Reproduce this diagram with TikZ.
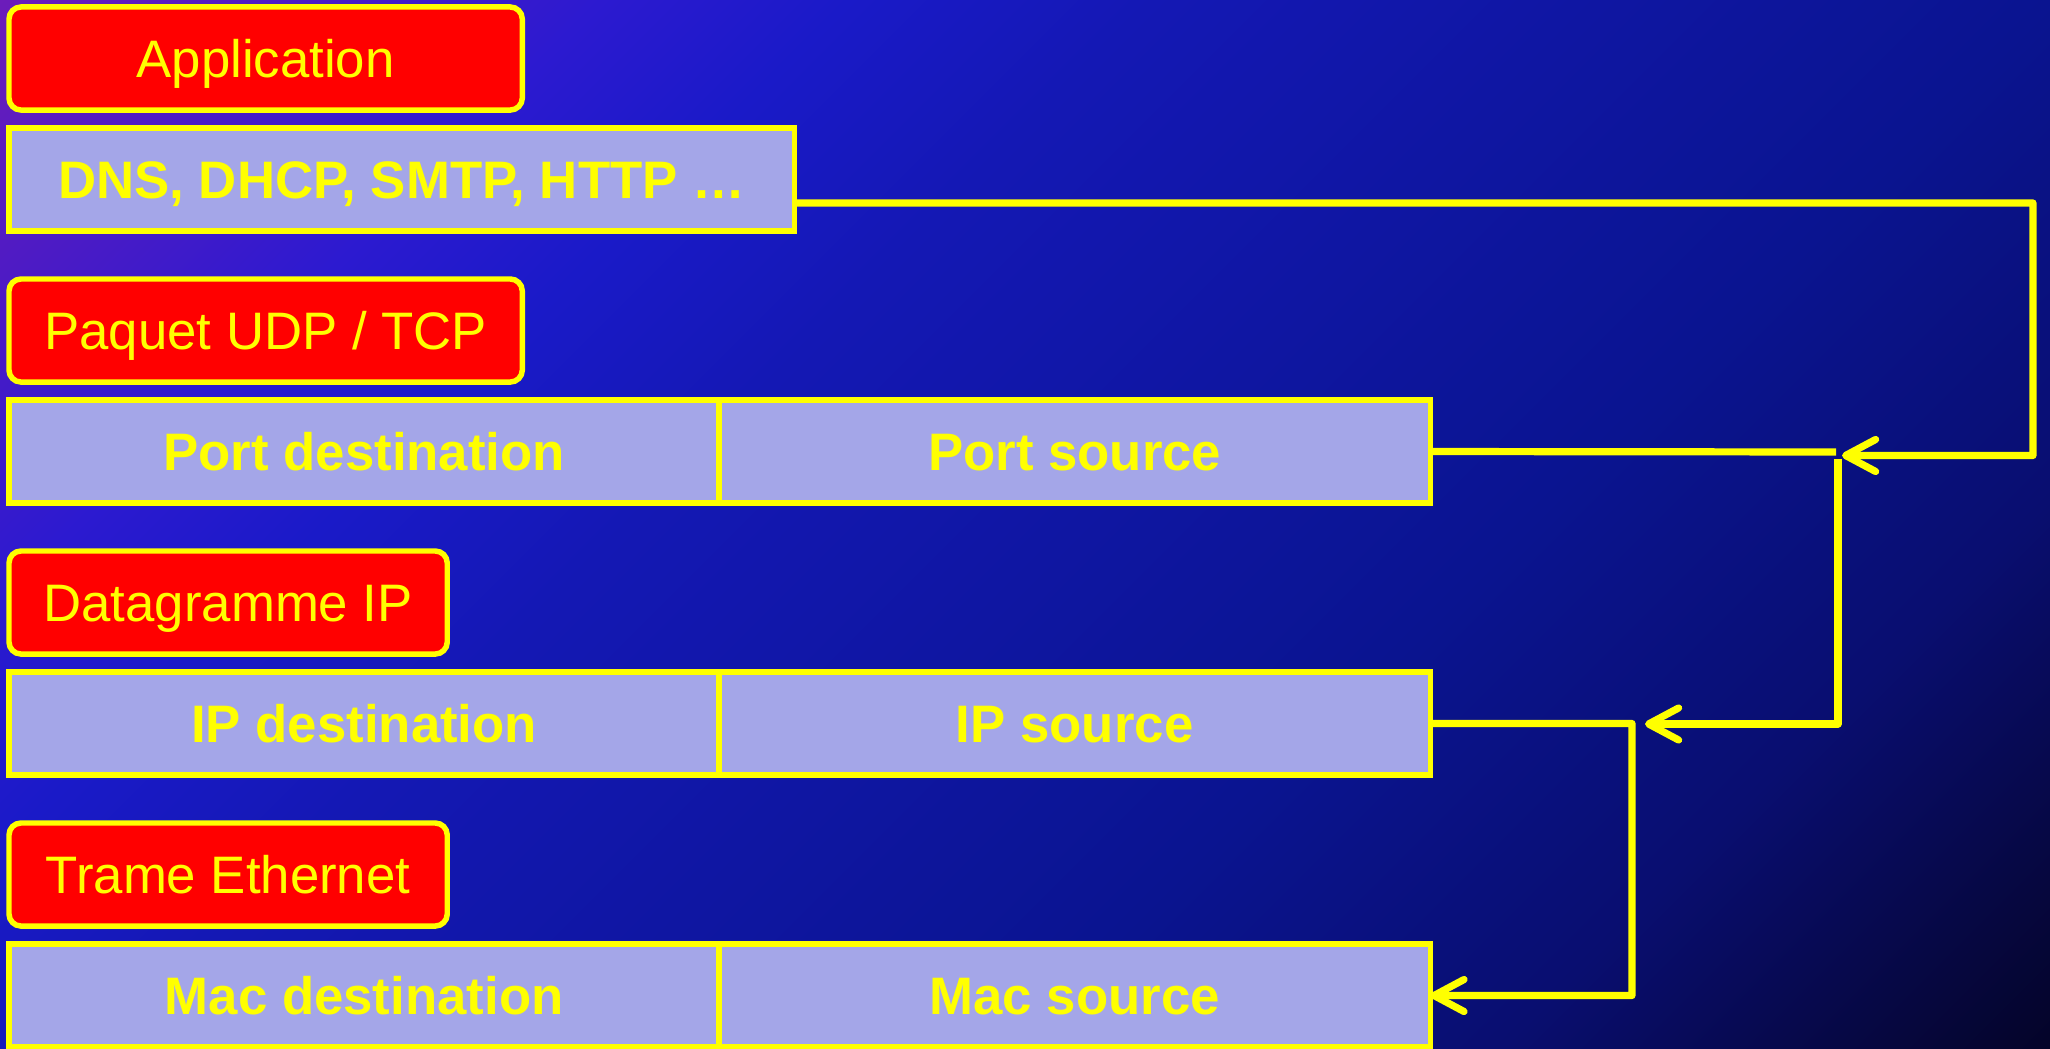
\documentclass[tikz,border=0pt]{standalone}
\usepackage{fontspec}
\setmainfont{Liberation Sans}
\usetikzlibrary{arrows.meta}

\definecolor{yel}{RGB}{255,255,0}
\definecolor{redc}{RGB}{255,0,0}
\definecolor{cellc}{RGB}{164,166,232}
\definecolor{bgA}{RGB}{108,28,186}
\definecolor{bgB}{RGB}{44,26,208}
\definecolor{bgC}{RGB}{26,26,200}
\definecolor{bgD}{RGB}{20,24,180}
\definecolor{bgE}{RGB}{10,20,144}
\definecolor{bgF}{RGB}{9,14,112}
\definecolor{bgG}{RGB}{5,5,48}
\definecolor{bgH}{RGB}{4,4,40}

% diagonal background: purple top left, blue, then nearly black bottom right
\pgfdeclarehorizontalshading{bgshade}{100bp}{%
  color(0bp)=(bgA); color(25bp)=(bgA); color(34.7bp)=(bgB);
  color(38.7bp)=(bgC); color(43.6bp)=(bgD); color(58.1bp)=(bgE);
  color(66.1bp)=(bgF); color(74bp)=(bgG); color(75bp)=(bgH);
  color(100bp)=(bgH)}

\newcommand{\lblfont}{\fontsize{15pt}{18pt}\selectfont}
\newcommand{\cellfont}{\fontsize{15pt}{18pt}\selectfont\bfseries}

\tikzset{
  tag/.style={draw=yel, fill=redc, line width=1.56pt, rounded corners=0.12cm,
    inner sep=0pt, outer sep=0pt, anchor=north west, text=yel, font=\lblfont,
    text height=0.376cm, text depth=0pt, minimum height=1.03cm},
  cell/.style={draw=yel, fill=cellc, line width=1.56pt,
    inner sep=0pt, outer sep=0pt, anchor=north west, text=yel, font=\cellfont,
    text height=0.376cm, text depth=0pt, minimum height=1.03cm},
  link/.style={draw=yel, line width=2.05pt, line join=round},
  arr/.style={-{Straight Barb[length=0.3cm,width=0.32cm,round]}},
}

\begin{document}
\begin{tikzpicture}[x=0.01cm, y=-0.01cm]
  \useasboundingbox (0,0) rectangle (2050,1049);

  % background
  \begin{scope}
    \clip (0,0) rectangle (2050,1049);
    \begin{scope}[transform canvas={rotate=-45}]
      \shade[shading=bgshade] (0,-1450) rectangle (2192,742);
    \end{scope}
  \end{scope}

  % layer labels
  \node[tag, minimum width=5.13cm] (app)  at (9,7)   {Application};
  \node[tag, minimum width=5.13cm] (pkt)  at (9,279) {Paquet UDP / TCP};
  \node[tag, minimum width=4.38cm] (dgm)  at (9,551) {Datagramme IP};
  \node[tag, minimum width=4.38cm] (frm)  at (9,823) {Trame Ethernet};

  % header fields
  \node[cell, minimum width=7.85cm] (dns) at (9,128) {DNS, DHCP, SMTP, HTTP …};

  \node[cell, minimum width=7.10cm] (portdst) at (9,400)   {Port destination};
  \node[cell, minimum width=7.11cm] (portsrc) at (719,400) {Port source};

  \node[cell, minimum width=7.10cm] (ipdst) at (9,672)   {IP destination};
  \node[cell, minimum width=7.11cm] (ipsrc) at (719,672) {IP source};

  \node[cell, minimum width=7.10cm] (macdst) at (9,944)   {Mac destination};
  \node[cell, minimum width=7.11cm] (macsrc) at (719,944) {Mac source};

  % free ends of the connectors
  \coordinate (inA)     at (1842,455.5);
  \coordinate (endP)    at (1836,452);
  \coordinate (dropTop) at (1838,459);
  \coordinate (dropBot) at (1838,724);
  \coordinate (inB)     at (1645,724);

  % connectors
  \draw[link, arr] ([yshift=-0.235cm]dns.east) -- (2033,203) |- (inA);
  \draw[link] (portsrc.east) -- (endP);
  \draw[link, arr] (dropTop) -- (dropBot) -- (inB);
  \draw[link, arr] (ipsrc.east) -- (1632,723.5) |- (macsrc.east);
\end{tikzpicture}
\end{document}
